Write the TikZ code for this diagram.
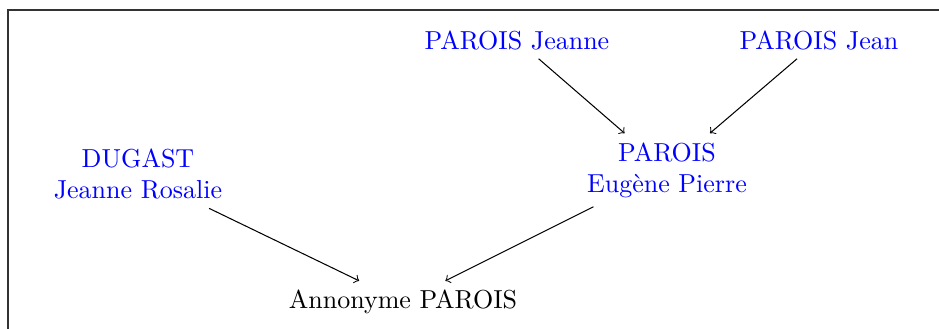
\documentclass[tikz,border=0pt]{standalone}
\begin{document}
\begin{tikzpicture}[x=0.3846pt,y=-0.3846pt,
  person/.style={text=blue,align=center},
  child/.style={text=black,align=center},
  link/.style={->,draw=black}]
\useasboundingbox (0,0) rectangle (939,329);
\draw[black!80] (8,329) -- (8,10) -- (939,10);
\node[person] (jeanne) at (517,40) {PAROIS Jeanne};
\node[person] (jean) at (819,40) {PAROIS Jean};
\node[person] (eugene) at (667,170) {PAROIS\\Eugène Pierre};
\node[person] (dugast) at (138,174) {DUGAST\\Jeanne Rosalie};
\node[child] (anon) at (403,302) {Annonyme PAROIS};
\draw[link] (jeanne) -- (eugene);
\draw[link] (jean) -- (eugene);
\draw[link] (dugast) -- (anon);
\draw[link] (eugene) -- (anon);
\end{tikzpicture}
\end{document}
